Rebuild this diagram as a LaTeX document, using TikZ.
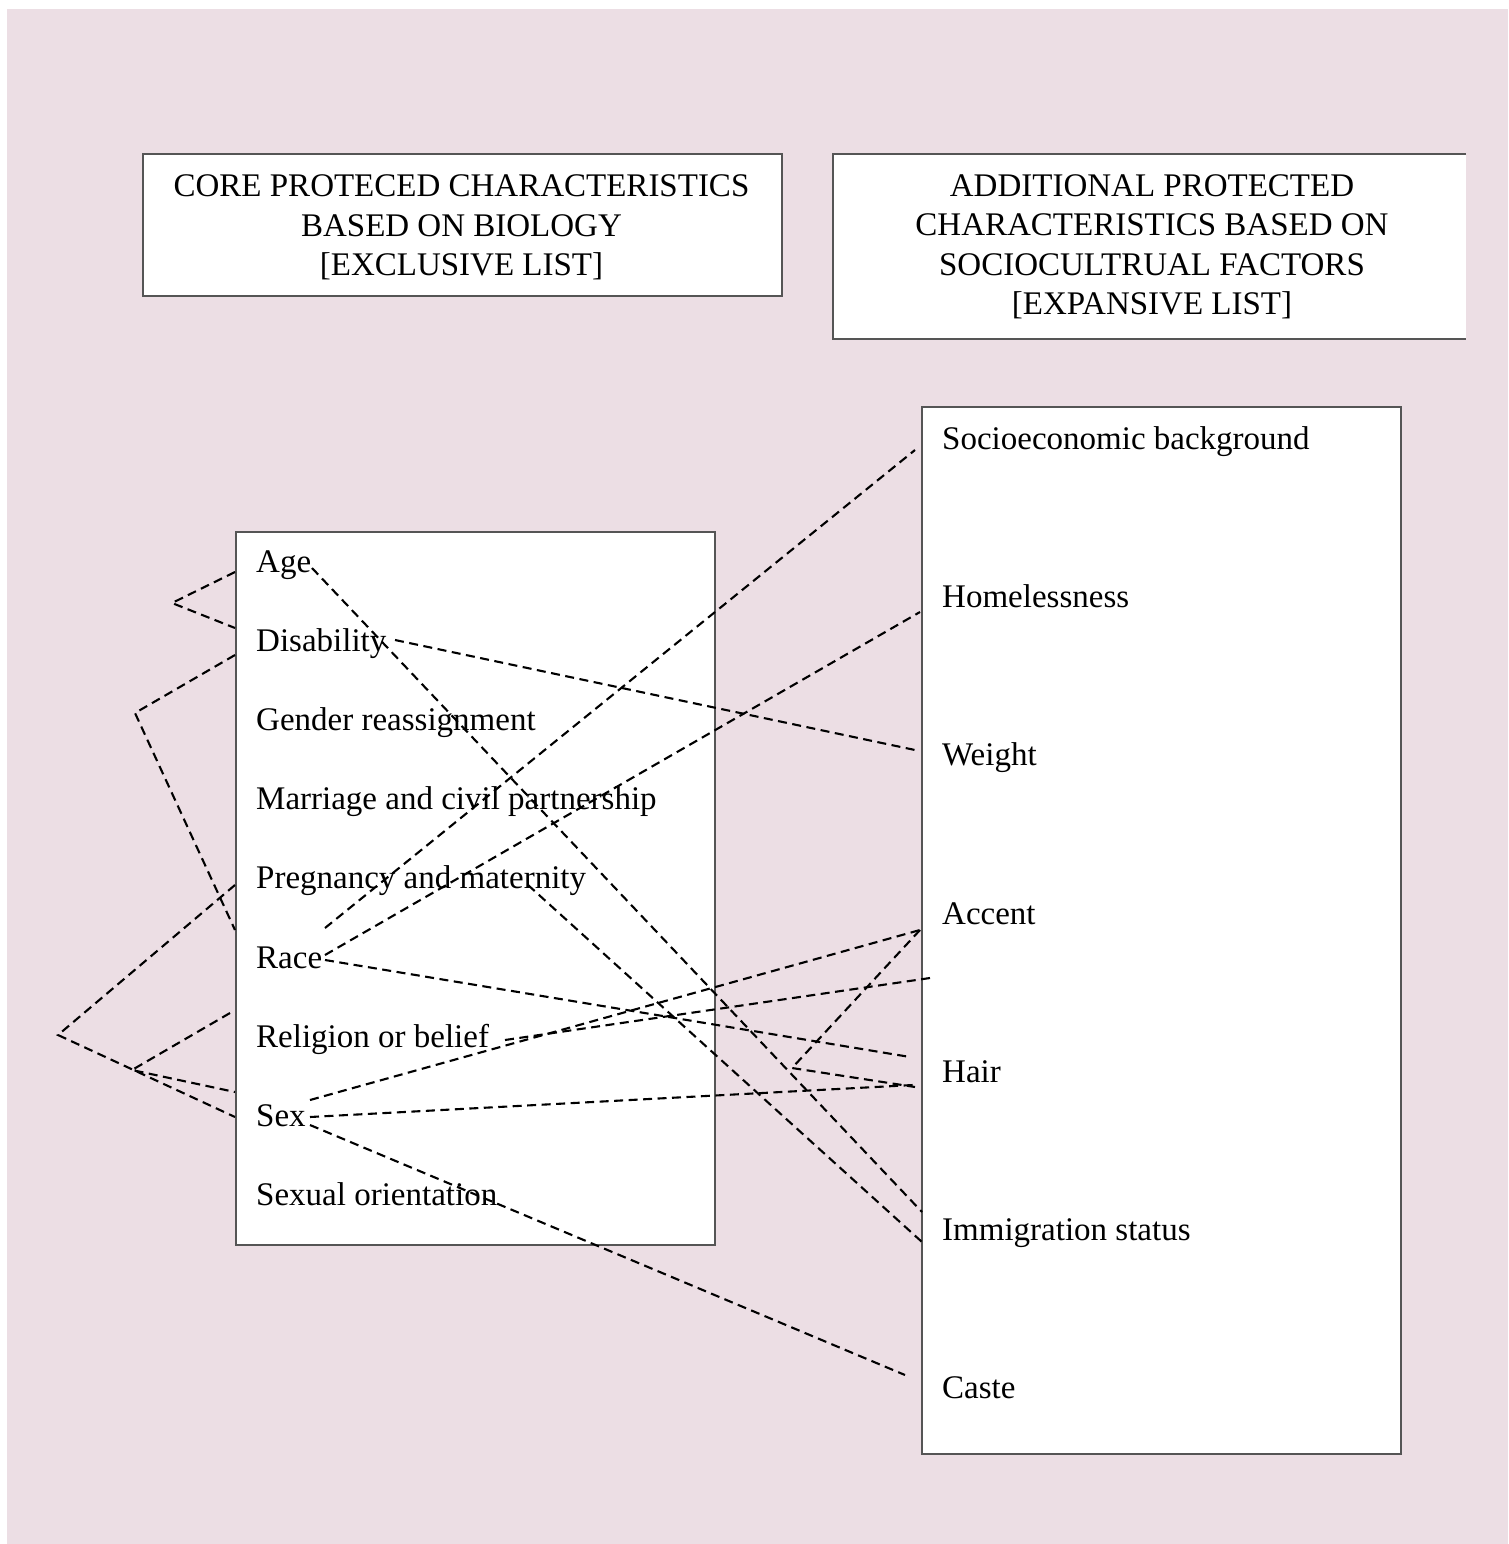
\documentclass[tikz,border=0pt]{standalone}
\usepackage{fontspec}
\setmainfont{Liberation Serif}
\definecolor{bgpink}{RGB}{236,222,228}
\definecolor{boxline}{RGB}{85,85,85}
\begin{document}
\begin{tikzpicture}[x=1pt,y=-1pt,
  txt/.style={font=\fontsize{33}{39.5}\selectfont, inner sep=0pt, text=black},
  item/.style={txt, anchor=base west},
  panel/.style={draw=boxline, line width=1.5pt, fill=white, inner sep=0pt},
  link/.style={black, line width=2.1pt, dash pattern=on 9pt off 5.5pt}]
\useasboundingbox (0,0) rectangle (1508,1544);
\fill[white] (0,0) rectangle (1508,1544);
\fill[bgpink] (7,9) rectangle (1508,1544);

% header boxes
\node[panel, minimum width=639pt, minimum height=142pt] (hdrL) at (462.5,225) {};
\node[txt, align=center] (hdrLt) at (461.5,227.3) {CORE PROTECED CHARACTERISTICS\\BASED ON BIOLOGY\\{}[EXCLUSIVE LIST]};
\node[fill=white, inner sep=0pt, minimum width=633pt, minimum height=185pt] (hdrR) at (1149.5,246.5) {};
\draw[boxline, line width=1.5pt] (hdrR.north east) -- (hdrR.north west) -- (hdrR.south west) -- (hdrR.south east);
\node[txt, align=center] (hdrRt) at (1152,247) {ADDITIONAL PROTECTED\\CHARACTERISTICS BASED ON\\SOCIOCULTRUAL FACTORS\\{}[EXPANSIVE LIST]};

% list boxes
\node[panel, minimum width=479pt, minimum height=713pt] (lbox) at (475.5,888.5) {};
\node[panel, minimum width=479pt, minimum height=1047pt] (rbox) at (1161.5,930.5) {};

% left items
\node[item] (age) at (256,572) {Age};
\node[item] (dis) at (256,651.2) {Disability};
\node[item] (gen) at (256,730.4) {Gender reassignment};
\node[item] (mar) at (256,809.6) {Marriage and civil partnership};
\node[item] (pre) at (256,888.8) {Pregnancy and maternity};
\node[item] (rac) at (256,968) {Race};
\node[item] (rel) at (256,1047.2) {Religion or belief};
\node[item] (sex) at (256,1126.4) {Sex};
\node[item] (sor) at (256,1205.6) {Sexual orientation};

% right items
\node[item] (soc) at (942,449) {Socioeconomic background};
\node[item] (hom) at (942,607.3) {Homelessness};
\node[item] (wei) at (942,765.6) {Weight};
\node[item] (acc) at (942,924) {Accent};
\node[item] (hai) at (942,1082.2) {Hair};
\node[item] (imm) at (942,1240.5) {Immigration status};
\node[item] (cas) at (942,1398.8) {Caste};

% connector end points
\coordinate (ageR) at (312,568);
\coordinate (preR) at (528,885);
\coordinate (disR) at (395,640);
\coordinate (racR1) at (325,928);
\coordinate (racR2) at (325,955);
\coordinate (racR3) at (325,960);
\coordinate (relR) at (505,1040);
\coordinate (sexR1) at (310,1100);
\coordinate (sexR2) at (310,1117);
\coordinate (sexR3) at (310,1125);

\coordinate (immL1) at (922,1212);
\coordinate (immL2) at (922,1242);
\coordinate (weiL) at (915,750);
\coordinate (socL) at (915,450);
\coordinate (homL) at (920,612);
\coordinate (haiL1) at (910,1057);
\coordinate (haiL2) at (913,1085);
\coordinate (haiL3) at (915,1087);
\coordinate (accL) at (920,930);
\coordinate (gapL) at (930,978);
\coordinate (casL) at (905,1375);
\coordinate (mid) at (792,1068);

\coordinate (ageL) at (235,572);
\coordinate (disL1) at (235,628);
\coordinate (disL2) at (235,655);
\coordinate (racL) at (235,930);
\coordinate (preL) at (235,885);
\coordinate (relL) at (230,1013);
\coordinate (sexL1) at (235,1092);
\coordinate (sexL2) at (235,1117);
\coordinate (k1) at (172,603);
\coordinate (k2) at (135,713);
\coordinate (k3) at (58,1035);
\coordinate (k4) at (132,1070);

% right-going connectors
\draw[link] (ageR) -- (immL1);
\draw[link] (preR) -- (immL2);
\draw[link] (disR) -- (weiL);
\draw[link] (racR1) -- (socL);
\draw[link] (racR2) -- (homL);
\draw[link] (racR3) -- (haiL1);
\draw[link] (relR) -- (gapL);
\draw[link] (sexR1) -- (accL);
\draw[link] (sexR2) -- (haiL2);
\draw[link] (sexR3) -- (casL);
\draw[link] (accL) -- (mid) -- (haiL3);

% left-side connectors
\draw[link] (ageL) -- (k1) -- (disL1);
\draw[link] (disL2) -- (k2) -- (racL);
\draw[link] (preL) -- (k3) -- (sexL2);
\draw[link] (relL) -- (k4) -- (sexL1);
\end{tikzpicture}
\end{document}
